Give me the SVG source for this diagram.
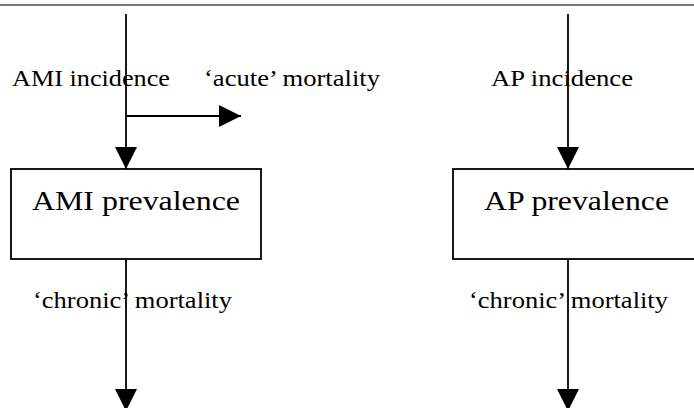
<svg xmlns="http://www.w3.org/2000/svg" width="694" height="408" viewBox="0 0 694 408">
  <style>
    .lbl { font-family: "Liberation Serif", "Times New Roman", serif; font-size: 23px; fill: #000; }
    .big { font-family: "Liberation Serif", "Times New Roman", serif; font-size: 28px; fill: #000; }
    .box { fill: #fff; stroke: #000; stroke-width: 1.8; }
    .conn { stroke: #000; stroke-width: 1.8; fill: none; }
  </style>
  <defs>
    <marker id="ah" markerUnits="userSpaceOnUse" markerWidth="22" markerHeight="22" viewBox="0 0 21 21" refX="21" refY="10.5" orient="auto">
      <path d="M0,0 L21,10.5 L0,21 Z" fill="#000"/>
    </marker>
  </defs>
  <rect width="694" height="408" fill="#fff"/>
  <line x1="0" y1="5" x2="694" y2="5" stroke="#7a7a7a" stroke-width="2"/>

  <g id="connectors">
    <line class="conn" x1="126" y1="14" x2="126" y2="169" marker-end="url(#ah)"/>
    <line class="conn" x1="126" y1="116" x2="241" y2="116" marker-end="url(#ah)"/>
    <line class="conn" x1="126" y1="259" x2="126" y2="411" marker-end="url(#ah)"/>
    <line class="conn" x1="568" y1="14" x2="568" y2="169" marker-end="url(#ah)"/>
    <line class="conn" x1="568" y1="259" x2="568" y2="411" marker-end="url(#ah)"/>
  </g>

  <g id="ami-prevalence">
    <rect class="box" x="11" y="169" width="250" height="90"/>
    <text class="big" x="32" y="210" textLength="208" lengthAdjust="spacingAndGlyphs">AMI prevalence</text>
  </g>
  <g id="ap-prevalence">
    <rect class="box" x="453" y="169" width="260" height="90"/>
    <text class="big" x="484" y="210" textLength="185" lengthAdjust="spacingAndGlyphs">AP prevalence</text>
  </g>

  <g id="labels">
    <text class="lbl" x="12" y="86" textLength="158" lengthAdjust="spacingAndGlyphs">AMI incidence</text>
    <text class="lbl" x="204" y="86" textLength="176" lengthAdjust="spacingAndGlyphs">‘acute’ mortality</text>
    <text class="lbl" x="491" y="86" textLength="142" lengthAdjust="spacingAndGlyphs">AP incidence</text>
    <text class="lbl" x="33" y="308" textLength="199" lengthAdjust="spacingAndGlyphs">‘chronic’ mortality</text>
    <text class="lbl" x="469" y="308" textLength="199" lengthAdjust="spacingAndGlyphs">‘chronic’ mortality</text>
  </g>
</svg>
